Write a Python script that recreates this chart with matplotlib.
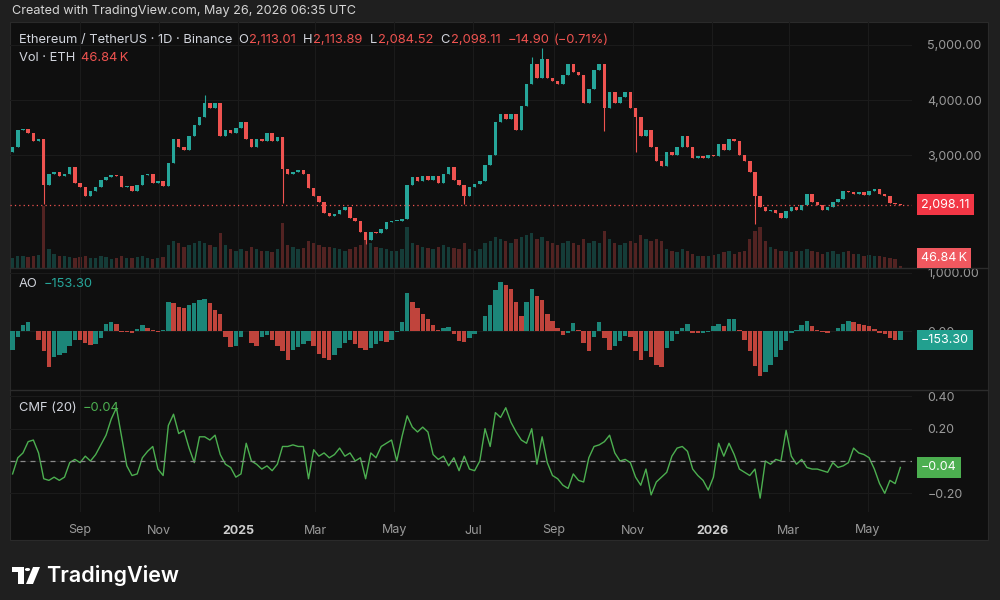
import numpy as np
import pandas as pd
import matplotlib
matplotlib.use('Agg')
import matplotlib.pyplot as plt
import matplotlib.dates as mdates
from matplotlib.patches import Rectangle, Circle, Polygon
from matplotlib.transforms import blended_transform_factory
from matplotlib.ticker import FuncFormatter

plt.rcParams['font.family'] = ['Inter', 'DejaVu Sans']

# ---- data (one point every 4 days) ----
dates = pd.date_range(end='2026-05-26', periods=172, freq='4D')

close = [
    3150, 3450, 3480, 3400, 3250, 3300, 2450, 2650, 2700, 2620,
    2650, 2780, 2500, 2420, 2250, 2350, 2420, 2550, 2600, 2640,
    2620, 2420, 2440, 2350, 2450, 2630, 2650, 2500, 2520, 2430,
    2850, 3300, 3150, 3100, 3350, 3550, 3700, 3950, 3850, 3950,
    3350, 3450, 3400, 3500, 3600, 3300, 3150, 3300, 3250, 3400,
    3250, 3320, 2750, 2650, 2700, 2720, 2650, 2400, 2250, 2150,
    1950, 1900, 1920, 2000, 2050, 1850, 1800, 1600, 1450, 1600,
    1580, 1650, 1780, 1800, 1800, 1830, 2450, 2600, 2520, 2620,
    2550, 2620, 2500, 2650, 2780, 2550, 2450, 2250, 2420, 2480,
    2520, 2820, 3000, 3600, 3750, 3650, 3750, 3450, 3900, 4300,
    4650, 4400, 4750, 4400, 4350, 4300, 4450, 4650, 4500, 4450,
    3950, 4200, 4550, 4650, 3850, 4150, 3950, 4050, 4150, 3850,
    3700, 3350, 3450, 3150, 2900, 2800, 3050, 3000, 3150, 3350,
    3150, 2950, 2980, 2950, 3000, 2980, 3200, 3100, 3300, 3250,
    3000, 2900, 2700, 2250, 2050, 1980, 2000, 1950, 1850, 1980,
    2050, 2000, 2100, 2300, 2150, 2100, 2000, 2050, 2150, 2200,
    2350, 2320, 2300, 2330, 2280, 2350, 2380, 2300, 2250, 2120,
    2113.01, 2098.11,
]
first_open = 3050
# visible long wicks
wick_low = {6: 2110, 52: 2120, 68: 1390, 87: 2110, 114: 3440, 120: 3050, 143: 1750}
wick_high = {37: 4100, 100: 4790, 102: 4950}

volume = [  # K ETH
    250, 300, 280, 260, 300, 320, 1500, 450, 350, 300,
    280, 260, 240, 260, 300, 250, 230, 280, 260, 220,
    240, 300, 250, 230, 260, 280, 240, 220, 250, 270,
    550, 650, 600, 500, 550, 600, 650, 600, 550, 500,
    850, 550, 450, 400, 450, 420, 500, 450, 420, 400,
    380, 450, 1100, 550, 500, 450, 480, 650, 600, 550,
    520, 500, 480, 450, 420, 450, 500, 550, 800, 600,
    500, 480, 450, 420, 400, 450, 1000, 600, 550, 500,
    480, 450, 500, 550, 500, 480, 450, 600, 450, 400,
    450, 600, 650, 750, 700, 650, 600, 700, 750, 800,
    850, 700, 750, 650, 600, 550, 600, 650, 600, 550,
    700, 600, 650, 600, 900, 700, 600, 550, 600, 650,
    600, 800, 700, 650, 700, 650, 450, 400, 380, 450,
    400, 350, 300, 280, 300, 320, 350, 380, 400, 350,
    380, 420, 700, 900, 1000, 650, 500, 450, 420, 400,
    380, 400, 420, 450, 400, 380, 350, 380, 400, 350,
    380, 400, 350, 330, 300, 320, 300, 280, 260, 240,
    220, 46.84,
]

ao = [
    -320, -100, 100, 160, 0, -150, -350, -620, -450, -420,
    -380, -250, -150, -160, -200, -240, -230, -120, 120, 160,
    120, -10, -20, -30, 40, 100, 60, 10, -10, 20,
    500, 480, 420, 400, 440, 480, 530, 550, 480, 360,
    300, -100, -270, -250, -100, 0, -200, -250, -100, -70,
    -150, -250, -350, -500, -330, -280, -220, -180, -250, -400,
    -470, -500, -420, -300, -200, -160, -220, -300, -330, -300,
    -230, -180, -190, -150, -20, 150, 650, 500, 400, 300,
    200, 100, 20, 60, 70, -50, -170, -190, -120, -50,
    0, 250, 450, 700, 850, 800, 720, 500, 250, 500,
    730, 600, 540, 300, 180, 50, -70, -30, 130, 20,
    -200, -350, -100, 150, -120, -320, -260, -180, -80, -100,
    -350, -500, -350, -450, -580, -620, -300, -180, -50, 50,
    120, -30, -40, -40, -20, 80, 120, 80, 200, 200,
    20, -150, -350, -600, -780, -700, -580, -450, -320, -180,
    -40, 20, 100, 180, 80, 20, -20, -40, 0, 60,
    120, 180, 150, 120, 100, 80, 40, -30, -60, -120,
    -160, -153.3,
]

cmf = [
    -0.08, 0.02, 0.05, 0.12, 0.13, 0.05, -0.11, -0.12, -0.10, -0.12,
    -0.10, -0.01, 0.01, -0.01, 0.03, 0.00, 0.04, 0.10, 0.16, 0.26,
    0.33, 0.15, -0.03, -0.09, -0.08, 0.02, 0.06, 0.09, -0.05, -0.09,
    0.22, 0.29, 0.17, 0.19, 0.08, -0.01, 0.15, 0.15, 0.13, 0.16,
    0.04, -0.02, -0.04, -0.10, -0.08, 0.11, 0.00, -0.02, -0.05, -0.03,
    -0.06, -0.02, 0.09, 0.09, 0.10, 0.09, 0.09, -0.11, 0.07, 0.03,
    0.05, 0.02, 0.04, 0.08, 0.03, 0.05, 0.00, 0.02, -0.11, 0.05,
    0.02, 0.09, 0.11, 0.13, 0.00, 0.15, 0.28, 0.21, 0.18, 0.21,
    0.18, 0.04, 0.01, 0.03, -0.03, 0.02, -0.06, 0.03, -0.05, -0.06,
    0.00, 0.20, 0.09, 0.30, 0.27, 0.33, 0.24, 0.18, 0.13, 0.11,
    0.20, -0.02, 0.15, -0.01, -0.09, -0.11, -0.15, -0.17, -0.08, -0.12,
    -0.13, 0.02, 0.09, 0.10, 0.12, 0.16, 0.05, 0.00, 0.01, -0.01,
    -0.10, -0.15, -0.05, -0.21, -0.13, -0.10, -0.07, 0.03, 0.08, 0.09,
    0.06, -0.05, -0.09, -0.12, -0.18, -0.10, 0.11, 0.03, 0.11, 0.04,
    -0.05, -0.07, -0.09, -0.05, -0.23, 0.00, -0.02, 0.01, 0.00, 0.19,
    0.03, -0.02, 0.01, -0.04, -0.05, -0.05, -0.06, -0.07, -0.01, -0.04,
    -0.03, -0.01, 0.08, 0.05, 0.04, 0.02, -0.05, -0.14, -0.20, -0.12,
    -0.14, -0.04,
]

month_ticks = ['2024-09-01', '2024-11-01', '2025-01-01', '2025-03-01', '2025-05-01',
               '2025-07-01', '2025-09-01', '2025-11-01', '2026-01-01', '2026-03-01',
               '2026-05-01']
month_labels = ['Sep', 'Nov', '2025', 'Mar', 'May', 'Jul', 'Sep', 'Nov', '2026', 'Mar', 'May']

last_price = 2098.11

# ---- colours ----
UP = '#26a69a'
DOWN = '#ef5350'
AO_UP = '#1e9485'
AO_DOWN = '#d44a42'
BG = '#1f1f1f'
PANEL = '#0f0f0f'
GRID = '#1b1b1b'
TXT = '#d1d4dc'
AXT = '#9a9a9a'
CMF_GREEN = '#4caf50'

W, H = 1000, 600


def px_box(x0, y0, x1, y1):
    return [x0 / W, 1 - y1 / H, (x1 - x0) / W, (y1 - y0) / H]


fig = plt.figure(figsize=(10, 6), dpi=100, facecolor=BG)
fig.patches.append(Rectangle((10 / W, 1 - 540 / H), 978 / W, 518 / H,
                             transform=fig.transFigure, facecolor=PANEL,
                             edgecolor='#2a2a2a', lw=0.8, zorder=-10))

ax_p = fig.add_axes(px_box(10, 22, 912, 268))
ax_ao = fig.add_axes(px_box(10, 268, 912, 390), sharex=ax_p)
ax_c = fig.add_axes(px_box(10, 390, 912, 512), sharex=ax_p)

x = mdates.date2num(dates)
ticks_num = mdates.date2num(pd.to_datetime(month_ticks))

# volume lives on a twin of the price pane
ax_v = ax_p.twinx()
ax_v.set_ylim(0, 5950)
ax_v.set_yticks([])
for s in ax_v.spines.values():
    s.set_visible(False)
ax_v.set_zorder(1)
ax_p.set_zorder(2)

for ax in (ax_p, ax_ao, ax_c):
    ax.set_facecolor('none')
    ax.patch.set_visible(False)
    for s in ax.spines.values():
        s.set_visible(False)
    ax.yaxis.tick_right()
    ax.tick_params(axis='y', length=0, pad=11, labelsize=9, labelcolor=AXT)
    ax.tick_params(axis='x', length=0)
    ax.set_xticks(ticks_num)
    ax.grid(True, color=GRID, lw=0.8)
    ax.set_axisbelow(True)

ax_p.set_xlim(mdates.date2num(pd.Timestamp('2024-07-09')),
              mdates.date2num(pd.Timestamp('2026-06-04')))

# pane separators
for ypx in (268, 390):
    fig.add_artist(plt.Line2D([10 / W, 988 / W], [1 - ypx / H] * 2,
                              transform=fig.transFigure, color='#2c2c2c', lw=1))

# ---- price pane ----
opens = [first_open] + close[:-1]
colors = [UP if c >= o else DOWN for o, c in zip(opens, close)]
lows = [wick_low.get(i, min(o, c)) for i, (o, c) in enumerate(zip(opens, close))]
highs = [wick_high.get(i, max(o, c)) for i, (o, c) in enumerate(zip(opens, close))]
bottoms = [min(o, c) for o, c in zip(opens, close)]
heights = [max(abs(c - o), 10) for o, c in zip(opens, close)]

ax_v.bar(x, volume, width=2.6, color=colors, alpha=0.3, linewidth=0)

ax_p.vlines(x, lows, highs, colors=colors, lw=0.8)
ax_p.bar(x, heights, bottom=bottoms, width=2.7, color=colors, linewidth=0)
ax_p.axhline(last_price, color=DOWN, lw=0.9, ls=(0, (1, 2.5)))
ax_p.set_ylim(946, 5418)
ax_p.set_yticks([3000, 4000, 5000])
ax_p.yaxis.set_major_formatter(FuncFormatter(lambda v, p: f'{v:,.2f}'))
ax_p.tick_params(axis='x', labelbottom=False)

# ---- AO pane ----
ao_colors = [AO_UP] + [AO_UP if ao[i] >= ao[i - 1] else AO_DOWN for i in range(1, len(ao))]
ax_ao.bar(x, ao, width=3.4, color=ao_colors, linewidth=0, alpha=0.9)
ax_ao.set_ylim(-1017, 1086)
ax_ao.set_yticks([0, 1000])
ax_ao.yaxis.set_major_formatter(FuncFormatter(lambda v, p: f'{v:,.2f}'))
ax_ao.tick_params(axis='x', labelbottom=False)

# ---- CMF pane ----
ax_c.plot(x, cmf, color=CMF_GREEN, lw=1.0)
ax_c.axhline(0, color='#8a8a8a', lw=0.9, ls=(0, (4, 4)))
ax_c.set_ylim(-0.316, 0.44)
ax_c.set_yticks([-0.2, 0, 0.2, 0.4])
ax_c.yaxis.set_major_formatter(FuncFormatter(lambda v, p: f'{v:.2f}'.replace('-', '\u2212')))
ax_c.set_xticklabels(month_labels)
ax_c.tick_params(axis='x', pad=9, labelsize=9, labelcolor=AXT)
for lab in ax_c.get_xticklabels():
    if lab.get_text().isdigit():
        lab.set_fontweight('bold')
        lab.set_color('#cfcfcf')

# ---- texts ----
fig.text(12 / W, 1 - 11 / H, 'Created with TradingView.com, May 26, 2026 06:35 UTC',
         color='#d6d6d6', fontsize=9.1, va='center')

renderer = fig.canvas.get_renderer()


def segments(x_px, y_px, parts, size=9.3):
    for s, c, gap in parts:
        t = fig.text(x_px / W, 1 - y_px / H, s, color=c, fontsize=size, va='center', ha='left')
        x_px += t.get_window_extent(renderer).width + gap


segments(19, 40, [('Ethereum / TetherUS \u00b7 1D \u00b7 Binance', TXT, 6),
                  ('O', TXT, 1), ('2,113.01', DOWN, 7),
                  ('H', TXT, 1), ('2,113.89', DOWN, 7),
                  ('L', TXT, 1), ('2,084.52', DOWN, 7),
                  ('C', TXT, 1), ('2,098.11', DOWN, 7),
                  ('\u221214.90', DOWN, 4), ('(\u22120.71%)', DOWN, 0)])
segments(19, 58, [('Vol \u00b7 ETH', TXT, 6), ('46.84\u202fK', DOWN, 0)])
segments(19, 284, [('AO', TXT, 6), ('\u2212153.30', UP, 0)])
segments(19, 408, [('CMF (20)', TXT, 6), ('\u22120.04', CMF_GREEN, 0)])


def price_box(ax, yval, text, fc):
    tr = blended_transform_factory(fig.transFigure, ax.transData)
    fig.text(921 / W, yval, text, transform=tr, color='white', fontsize=9,
             va='center', ha='left', zorder=10,
             bbox=dict(boxstyle='square,pad=0.35', fc=fc, ec='none'))


price_box(ax_p, last_price, '2,098.11', '#f23645')
price_box(ax_ao, -153.3, '\u2212153.30', '#22a08f')
price_box(ax_c, -0.04, '\u22120.04', CMF_GREEN)
fig.text(921 / W, 1 - 258 / H, '46.84\u202fK', color='white', fontsize=9, va='center',
         ha='left', zorder=10, bbox=dict(boxstyle='square,pad=0.35', fc='#f0585f', ec='none'))


# ---- TradingView logo ----
def fx(v):
    return v / W


def fy(v):
    return 1 - v / H


logo = [
    Polygon([(fx(12), fy(567)), (fx(24), fy(567)), (fx(24), fy(584)), (fx(18), fy(584)),
             (fx(18), fy(572)), (fx(12), fy(572))], closed=True),
    Circle((fx(27.5), fy(569.5)), 2.6 / W),
    Polygon([(fx(33), fy(567)), (fx(40), fy(567)), (fx(33), fy(584)), (fx(26), fy(584))], closed=True),
]
for p in logo:
    p.set_transform(fig.transFigure)
    p.set_facecolor('white')
    p.set_edgecolor('none')
    fig.patches.append(p)
fig.text(fx(46), fy(575), 'TradingView', color='white', fontsize=15.5, fontweight='semibold',
         va='center', ha='left')

fig.savefig('out.png', dpi=100, facecolor=BG)
